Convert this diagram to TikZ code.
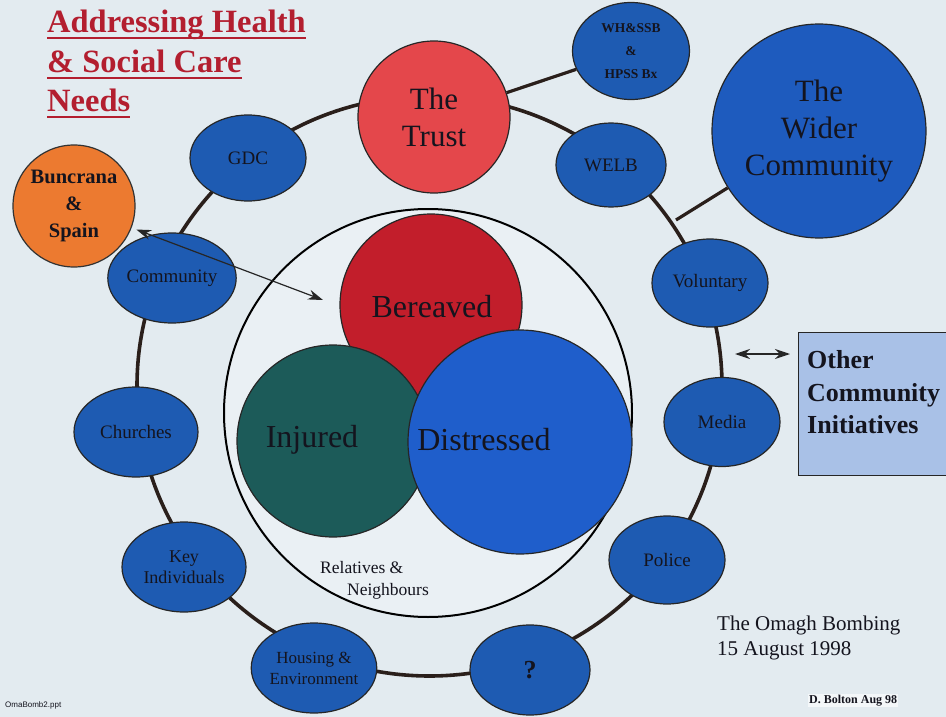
\documentclass[tikz,border=0pt]{standalone}
\usepackage{fontspec}
\setmainfont{Liberation Serif}
\setsansfont{Liberation Sans}
\usetikzlibrary{shapes.geometric,arrows.meta}
\definecolor{bgc}{HTML}{E3EBF0}
\definecolor{innerc}{HTML}{EAF0F4}
\definecolor{nblue}{HTML}{1E5BB2}
\definecolor{ntext}{HTML}{14141E}
\definecolor{trustred}{HTML}{E4474B}
\definecolor{berred}{HTML}{C21E2B}
\definecolor{injteal}{HTML}{1C5B59}
\definecolor{disblue}{HTML}{1F5ECB}
\definecolor{wideblue}{HTML}{1E5BBE}
\definecolor{bunor}{HTML}{EC7A30}
\definecolor{boxblue}{HTML}{A9C1E7}
\definecolor{titlered}{HTML}{B31E2F}
\definecolor{ringc}{HTML}{2A1F1B}
\begin{document}
\begin{tikzpicture}[x=1pt,y=-1pt,
  bnode/.style={ellipse, draw=black!85, line width=1.2pt, fill=nblue, inner sep=0pt,
    text=ntext, align=center, font=\fontsize{19}{21}\selectfont},
  bigc/.style={circle, draw=black!85, line width=1.2pt, inner sep=0pt, text=ntext,
    align=center, font=\fontsize{31}{37}\selectfont},
  bigtext/.style={text=ntext, inner sep=0pt, font=\fontsize{32}{37}\selectfont},
  ringline/.style={line width=3.6pt, draw=ringc},
  conn/.style={line width=3.2pt, draw=ringc},
  titletext/.style={anchor=base west, inner sep=0pt, text=titlered,
    font=\fontsize{32.5}{36}\selectfont\bfseries},
  uline/.style={line width=2.6pt, draw=titlered},
  arr/.style={line width=1.2pt, draw=black!85, {Stealth[length=15pt,width=10pt]}-{Stealth[length=15pt,width=10pt]}}
]
\useasboundingbox (0,0) rectangle (946,717);
\fill[bgc] (0,0) rectangle (946,717);

% outer ring
\node[ellipse, ringline, minimum width=585pt, minimum height=580pt, inner sep=0pt] (ring) at (429.5,386) {};

% inner circle
\node[circle, draw=black, line width=2pt, fill=innerc, minimum size=408pt, inner sep=0pt] (inner) at (428,413) {};

% connectors off the ring
\coordinate (ringpt) at (676,220);
\node[bigc, fill=wideblue, minimum size=214pt] (wider) at (819,131) {The\\Wider\\Community};
\draw[conn] (wider) -- (ringpt);

\node[bigc, fill=trustred, minimum size=152pt] (trust) at (434,117) {The\\Trust};
\node[bnode, minimum width=117pt, minimum height=97pt, font=\fontsize{13.5}{23}\selectfont\bfseries] (whssb) at (631,51) {WH\&SSB\\\&\\HPSS Bx};
\draw[conn] (trust) -- (whssb);

% ring nodes
\node[bnode, minimum width=116pt, minimum height=86pt] (gdc) at (248,158) {GDC};
\node[bnode, minimum width=110pt, minimum height=84pt] (welb) at (611,165) {WELB};
\node[bnode, minimum width=116pt, minimum height=88pt] (vol) at (710,283) {Voluntary};
\node[bnode, minimum width=116pt, minimum height=89pt] (media) at (722,422) {Media};
\node[bnode, minimum width=116pt, minimum height=88pt] (police) at (667,560) {Police};
\node[bnode, minimum width=120pt, minimum height=90pt, font=\fontsize{26}{28}\selectfont\bfseries] (q) at (530,670) {?};
\node[bnode, minimum width=122pt, minimum height=90pt, font=\fontsize{17}{21}\selectfont] (housing) at (314,668) {Housing \&\\Environment};
\node[bnode, minimum width=124pt, minimum height=90pt, font=\fontsize{18}{21}\selectfont] (key) at (184,567) {Key\\Individuals};
\node[bnode, minimum width=124pt, minimum height=90pt] (church) at (136,432) {Churches};
\node[bnode, minimum width=124pt, minimum height=90pt] (comm) at (172,278) {Community};

% inner circles
\node[bigc, fill=berred, minimum size=182pt] (ber) at (431,305) {};
\node[bigtext] (bertext) at (432,307) {Bereaved};
\node[bigc, fill=injteal, minimum size=192pt] (inj) at (333,441) {};
\node[bigc, fill=disblue, minimum size=224pt] (dis) at (520,442) {};
\node[bigtext] (injtext) at (312,440) {Injured};
\node[bigtext] (distext) at (484,440) {Distressed};

\node[anchor=base west, inner sep=0pt, text=ntext, font=\fontsize{17.5}{20}\selectfont] (rel1) at (320,573) {Relatives \&};
\node[anchor=base west, inner sep=0pt, text=ntext, font=\fontsize{17.5}{20}\selectfont] (rel2) at (347,595) {Neighbours};

% Buncrana
\node[circle, draw=black!80, line width=1.2pt, fill=bunor, minimum size=122pt, inner sep=0pt,
  align=center, text=ntext, font=\fontsize{20.5}{27}\selectfont\bfseries] (bun) at (74,206) {Buncrana\\\&\\Spain};
\coordinate (bunend) at (323,300);
\draw[arr, shorten <=5pt] (bun) -- (bunend);

% Other community initiatives
\node[draw=black!85, line width=1.3pt, fill=boxblue, minimum width=160pt, minimum height=143pt,
  anchor=north west, inner sep=0pt] (box) at (798,332) {};
\node[anchor=base west, inner sep=0pt, text=ntext, font=\fontsize{26}{30}\selectfont\bfseries] (o1) at (807,368) {Other};
\node[anchor=base west, inner sep=0pt, text=ntext, font=\fontsize{26}{30}\selectfont\bfseries] (o2) at (807,401) {Community};
\node[anchor=base west, inner sep=0pt, text=ntext, font=\fontsize{26}{30}\selectfont\bfseries] (o3) at (807,433) {Initiatives};
\coordinate (rightarr) at (735,354);
\coordinate (boxarr) at (790,354);
\draw[arr] (rightarr) -- (boxarr);

% title
\node[titletext] (t1) at (47,33) {Addressing Health};
\node[titletext] (t2) at (47,73) {\& Social Care};
\node[titletext] (t3) at (47,112) {Needs};
\draw[uline] ([yshift=-5pt]t1.base west) -- ([yshift=-5pt]t1.base east);
\draw[uline] ([yshift=-5pt]t2.base west) -- ([yshift=-5pt]t2.base east);
\draw[uline] ([yshift=-5pt]t3.base west) -- ([yshift=-5pt]t3.base east);

% footer texts
\node[anchor=base west, inner sep=0pt, text=ntext, font=\fontsize{21}{25}\selectfont] (om1) at (717,630) {The Omagh Bombing};
\node[anchor=base west, inner sep=0pt, text=ntext, font=\fontsize{21}{25}\selectfont] (om2) at (717,655) {15 August 1998};
\node[anchor=base west, inner sep=1pt, fill=white!60!bgc, text=ntext, font=\fontsize{12}{14}\selectfont\bfseries] (bolton) at (808,703) {D. Bolton Aug 98};
\node[anchor=base west, inner sep=0pt, text=ntext, font=\sffamily\fontsize{8}{10}\selectfont] (ppt) at (5,707) {OmaBomb2.ppt};
\end{tikzpicture}
\end{document}
